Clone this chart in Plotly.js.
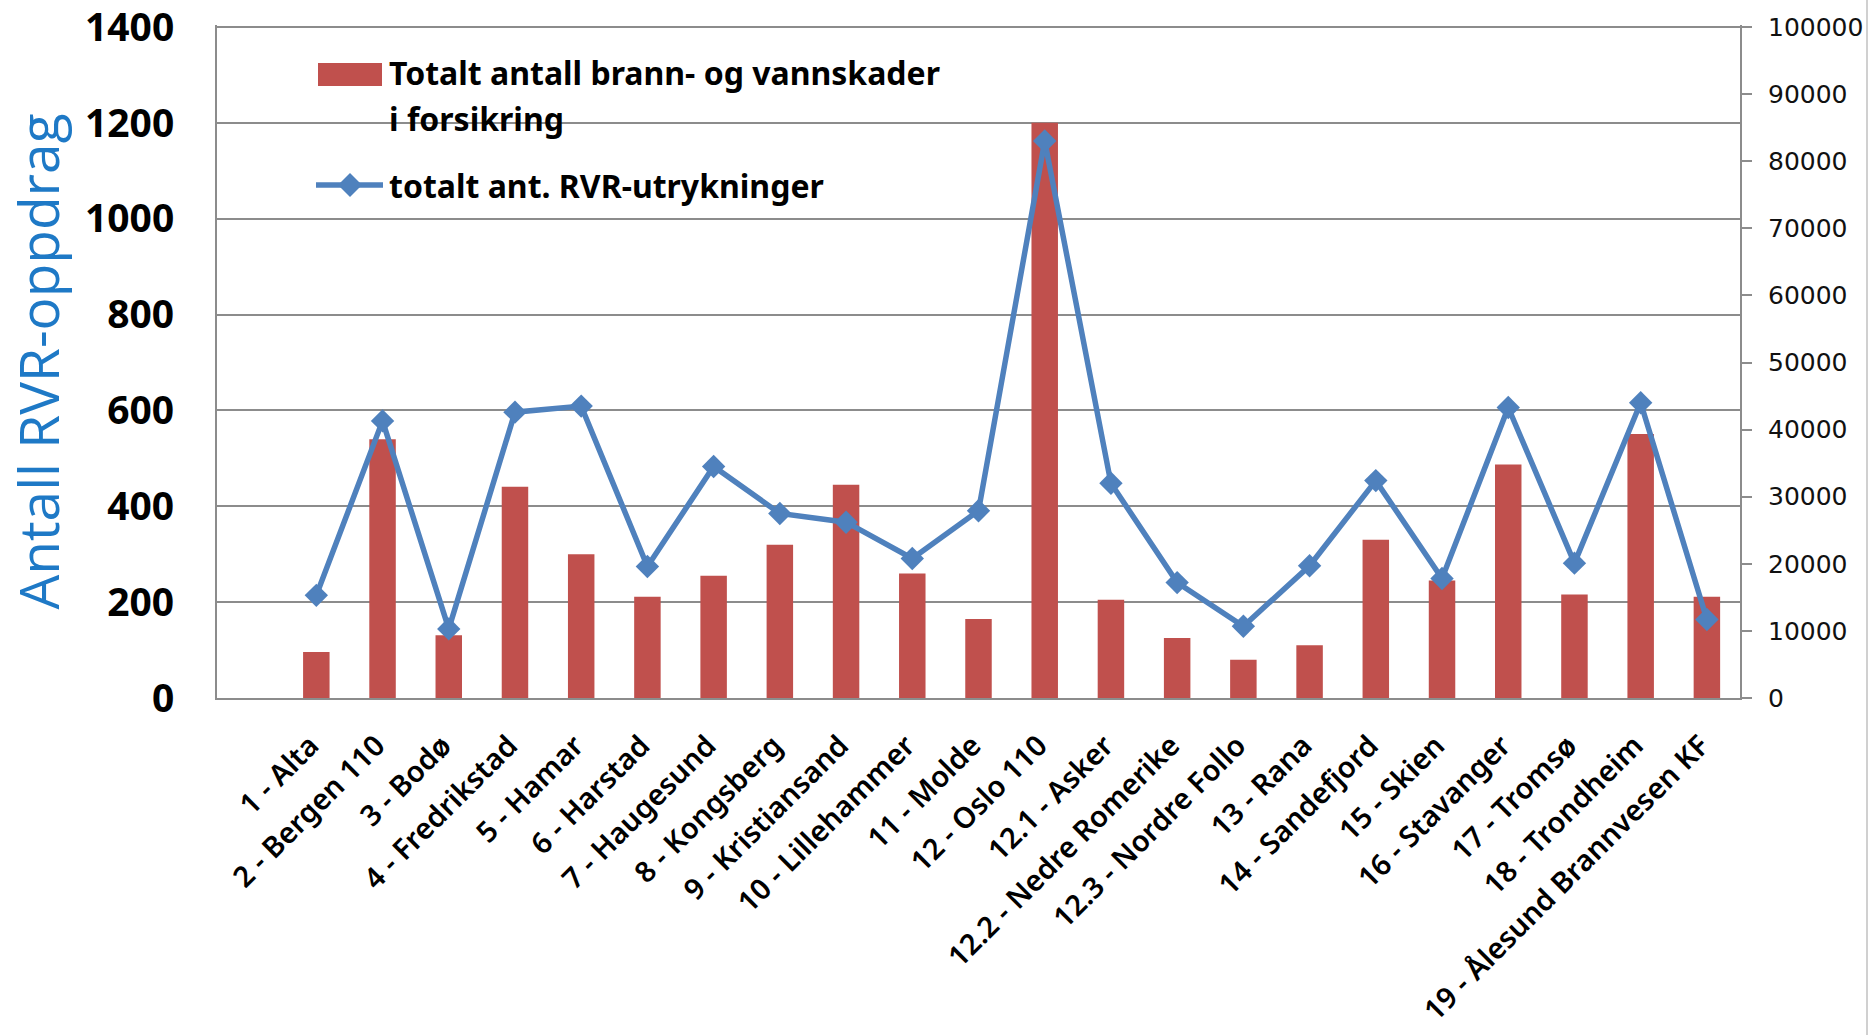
<!DOCTYPE html>
<html>
<head>
<meta charset="utf-8">
<script src="https://cdn.plot.ly/plotly-3.0.1.min.js"></script>
<style>
html,body{margin:0;padding:0;background:#fff;}
#chart{width:1870px;height:1035px;}
</style>
</head>
<body>
<div id="chart"></div>
<script>
// ---- Data ----
const categories = ["1 - Alta", "2 - Bergen 110", "3 - Bodø", "4 - Fredrikstad", "5 - Hamar", "6 - Harstad",
  "7 - Haugesund", "8 - Kongsberg", "9 - Kristiansand", "10 - Lillehammer", "11 - Molde", "12 - Oslo 110",
  "12.1 - Asker", "12.2 - Nedre Romerike", "12.3 - Nordre Follo", "13 - Rana", "14 - Sandefjord", "15 - Skien",
  "16 - Stavanger", "17 - Tromsø", "18 - Trondheim", "19 - Ålesund Brannvesen KF"];
const skader = [96, 540, 131, 441, 300, 211, 255, 320, 445, 260, 165, 1200, 205, 125, 80, 110, 330, 245, 487, 216, 551, 211];
const utrykninger = [15300, 41300, 10300, 42600, 43500, 19600, 34500, 27500, 26200, 20800, 27900, 83000, 32000, 17200, 10700, 19700, 32400, 17800, 43300, 20100, 44000, 11700];
const seriesNames = ["Totalt antall brann- og vannskader", "i forsikring", "totalt ant. RVR-utrykninger"];
const leftTicks = [0, 200, 400, 600, 800, 1000, 1200, 1400];
const rightTicks = [0, 10000, 20000, 30000, 40000, 50000, 60000, 70000, 80000, 90000, 100000];
const yTitle = "Antall RVR-oppdrag";

// ---- Layout geometry (pixels) ----
const W = 1870, H = 1035;
const L = 217, R = 1740, T = 25, B = 698;   // plot top 2px above the 1400 gridline (y=27)
const pw = R - L, ph = B - T;
const px = x => (x - L) / pw;
const py = y => (B - y) / ph;
const leftMax = 1400 * ph / (B - 27);
const rightMax = 100000 * ph / (B - 27);

const red = '#C0504D', blue = '#4F81BD', grid = '#8c8c8c';

const traces = [
  {
    type: 'bar', x: categories, y: skader, yaxis: 'y', name: seriesNames[0],
    marker: {color: red, line: {width: 0}}, showlegend: false
  },
  {
    type: 'scatter', mode: 'lines+markers', x: categories, y: utrykninger, yaxis: 'y2', name: seriesNames[2],
    line: {color: blue, width: 5.5}, marker: {symbol: 'diamond', size: 18, color: blue}, showlegend: false
  }
];

// custom legend
const dx = 12, dy = 12, cx = 350, cy = 185;
const diamond = `M ${px(cx - dx)} ${py(cy)} L ${px(cx)} ${py(cy - dy)} L ${px(cx + dx)} ${py(cy)} L ${px(cx)} ${py(cy + dy)} Z`;
const legFont = {family: 'Noto Sans', size: 32, color: '#000', weight: 700};

const layout = {
  width: W, height: H,
  margin: {l: L, r: W - R, t: T, b: H - B, pad: 0},
  paper_bgcolor: '#fff', plot_bgcolor: '#fff',
  bargap: 0.6,
  showlegend: false,
  xaxis: {
    type: 'category', range: [-1.5, 21.5],
    showline: true, linecolor: grid, linewidth: 2,
    ticks: '', tickangle: -45, ticklabelstandoff: 17, ticklabelshift: -6,
    tickfont: {family: 'Noto Sans', size: 29, color: '#000', weight: 600},
    showgrid: false, fixedrange: true
  },
  yaxis: {
    range: [0, leftMax], tickvals: leftTicks, ticktext: leftTicks.map(String),
    showline: true, linecolor: grid, linewidth: 2,
    showgrid: true, gridcolor: grid, gridwidth: 2, zeroline: false,
    ticks: '', ticklabelstandoff: 33, ticklabeloverflow: 'allow',
    tickfont: {family: 'Noto Sans', size: 39, color: '#000', weight: 700},
    title: {text: yTitle, font: {family: 'Open Sans', size: 55, color: '#1E79C6'}, standoff: 12}
  },
  yaxis2: {
    range: [0, rightMax], tickvals: rightTicks, ticktext: rightTicks.map(String),
    overlaying: 'y', side: 'right',
    showline: true, linecolor: grid, linewidth: 2, showgrid: false, zeroline: false,
    ticks: 'outside', ticklen: 10, tickwidth: 2, tickcolor: grid, ticklabelstandoff: 11,
    ticklabeloverflow: 'allow',
    tickfont: {family: 'DejaVu Sans', size: 25, color: '#111'}
  },
  shapes: [
    {type: 'rect', xref: 'paper', yref: 'paper', x0: px(318), x1: px(382), y0: py(86), y1: py(63),
     fillcolor: red, line: {width: 0}},
    {type: 'line', xref: 'paper', yref: 'paper', x0: px(316), x1: px(383), y0: py(cy), y1: py(cy),
     line: {color: blue, width: 5.5}},
    {type: 'path', xref: 'paper', yref: 'paper', path: diamond, fillcolor: blue, line: {width: 0}},
    {type: 'line', xref: 'paper', yref: 'paper', x0: px(1867), x1: px(1867), y0: py(0), y1: py(H),
     line: {color: '#d0d0d0', width: 2}}
  ],
  annotations: [
    {xref: 'paper', yref: 'paper', x: px(387), y: py(73), xanchor: 'left', yanchor: 'middle',
     text: seriesNames[0], showarrow: false, font: legFont},
    {xref: 'paper', yref: 'paper', x: px(387), y: py(119), xanchor: 'left', yanchor: 'middle',
     text: seriesNames[1], showarrow: false, font: legFont},
    {xref: 'paper', yref: 'paper', x: px(387), y: py(185), xanchor: 'left', yanchor: 'middle',
     text: seriesNames[2], showarrow: false, font: legFont}
  ]
};

Plotly.newPlot('chart', traces, layout, {displayModeBar: false, staticPlot: true});
</script>
</body>
</html>
